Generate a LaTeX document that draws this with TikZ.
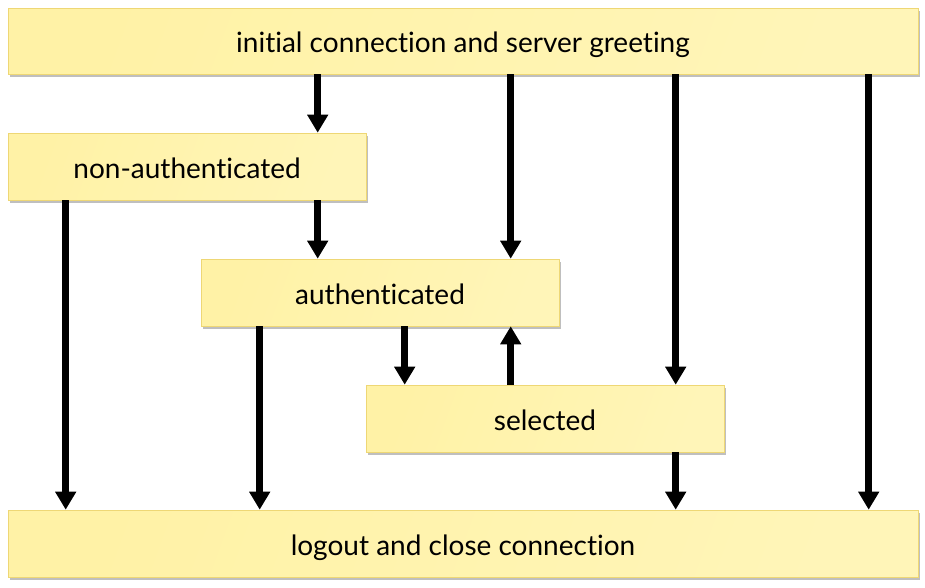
\documentclass[tikz,border=0pt]{standalone}
\usepackage{fontspec}
\setmainfont[Ligatures={NoCommon,NoRare}]{Lato}
\usetikzlibrary{arrows.meta,shadows}
\definecolor{boxA}{HTML}{FFF2A6}
\definecolor{boxM}{HTML}{FFEE8C}
\definecolor{boxB}{HTML}{FFF5B8}
\definecolor{boxline}{HTML}{EED775}
\tikzset{
  statebox/.style={draw=boxline, line width=0.6pt, left color=boxA, middle color=boxM, right color=boxB, shading angle=70,
    drop shadow={shadow xshift=2pt, shadow yshift=-3pt, opacity=0.25, fill=black},
    font=\fontsize{28}{32}\selectfont, text=black, inner sep=0pt, anchor=center,
    text height=26pt, text depth=3pt},
  arr/.style={line width=6.5pt, -{Triangle[width=20pt,length=18pt]}},
}
\begin{document}
\begin{tikzpicture}[x=1pt,y=-1pt]
\useasboundingbox (0,0) rectangle (925,587);
\node[statebox, minimum width=910pt, minimum height=66pt] (init) at (463,41) {initial connection and server greeting};
\node[statebox, minimum width=358pt, minimum height=67pt] (nonauth) at (187,166.5) {non-authenticated};
\node[statebox, minimum width=358pt, minimum height=67pt] (auth) at (380,292.5) {authenticated};
\node[statebox, minimum width=358pt, minimum height=67pt] (sel) at (545,418.5) {selected};
\node[statebox, minimum width=910pt, minimum height=67pt] (logout) at (463,543.5) {logout and close connection};
% from init
\draw[arr] ([xshift=310pt]init.south west) -- ([xshift=310pt]nonauth.north west);
\draw[arr] ([xshift=503pt]init.south west) -- ([xshift=310pt]auth.north west);
\draw[arr] ([xshift=668pt]init.south west) -- ([xshift=310pt]sel.north west);
\draw[arr] ([xshift=861pt]init.south west) -- ([xshift=861pt]logout.north west);
% from non-authenticated
\draw[arr] ([xshift=58pt]nonauth.south west) -- ([xshift=58pt]logout.north west);
\draw[arr] ([xshift=310pt]nonauth.south west) -- ([xshift=117pt]auth.north west);
% from authenticated
\draw[arr] ([xshift=59pt]auth.south west) -- ([xshift=252pt]logout.north west);
\draw[arr] ([xshift=204pt]auth.south west) -- ([xshift=39pt]sel.north west);
% from selected
\draw[arr] ([xshift=145pt]sel.north west) -- ([xshift=310pt]auth.south west);
\draw[arr] ([xshift=310pt]sel.south west) -- ([xshift=668pt]logout.north west);
\end{tikzpicture}
\end{document}
